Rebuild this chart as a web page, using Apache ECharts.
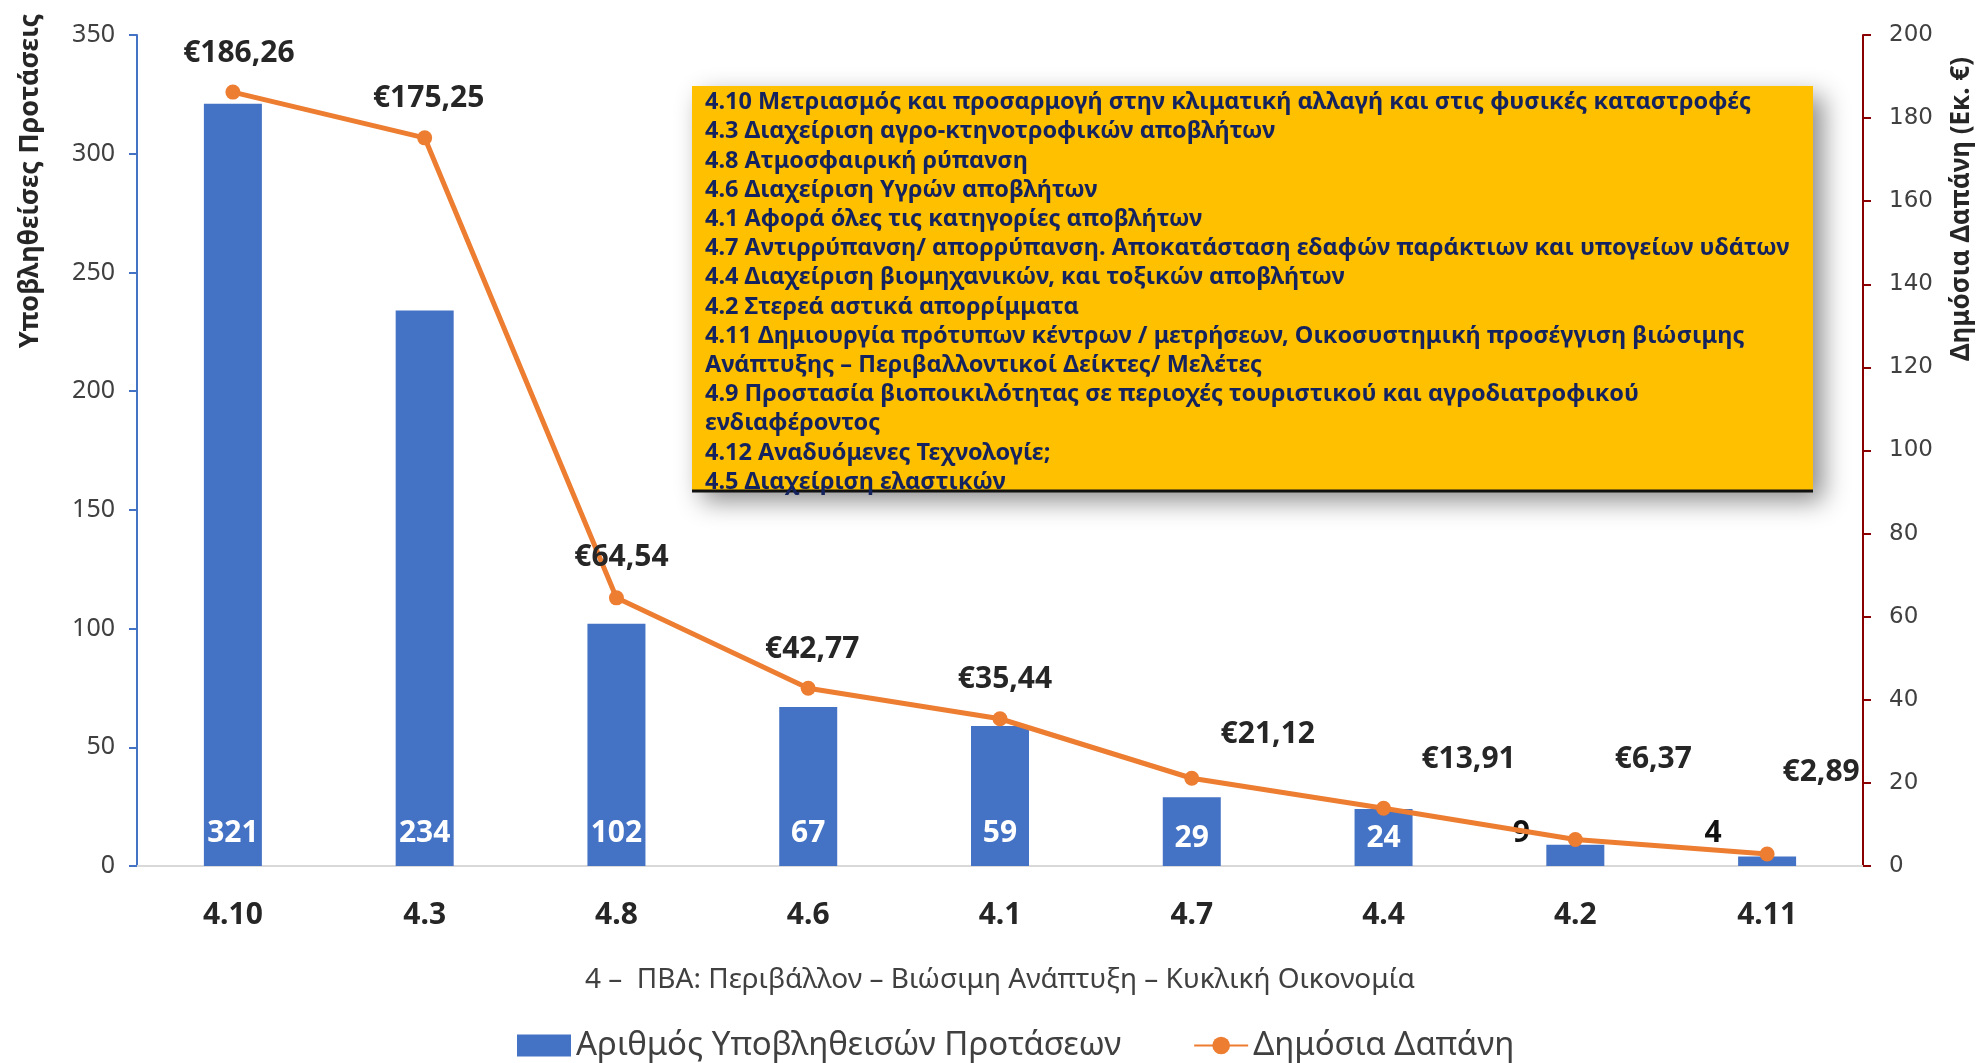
<!DOCTYPE html>
<html>
<head>
<meta charset="utf-8">
<style>
  html, body { margin: 0; padding: 0; background: #fff; }
  #chart-container { width: 1985px; height: 1063px; }
</style>
<script src="https://cdn.jsdelivr.net/npm/echarts@6/dist/echarts.min.js"></script>
</head>
<body>
<div id="chart-container"></div>
<script>
const categories = ['4.10', '4.3', '4.8', '4.6', '4.1', '4.7', '4.4', '4.2', '4.11'];
const proposals = [321, 234, 102, 67, 59, 29, 24, 9, 4];
const spending = [186.26, 175.25, 64.54, 42.77, 35.44, 21.12, 13.91, 6.37, 2.89];

const leftTicks = { min: 0, max: 350, interval: 50 };
const rightTicks = { min: 0, max: 200, interval: 20 };

const boxLines = [
  '4.10 Μετριασμός και προσαρμογή στην κλιματική αλλαγή και στις φυσικές καταστροφές',
  '4.3 Διαχείριση αγρο-κτηνοτροφικών αποβλήτων',
  '4.8 Ατμοσφαιρική ρύπανση',
  '4.6 Διαχείριση Υγρών αποβλήτων',
  '4.1 Αφορά όλες τις κατηγορίες αποβλήτων',
  '4.7 Αντιρρύπανση/ απορρύπανση. Αποκατάσταση εδαφών παράκτιων και υπογείων υδάτων',
  '4.4 Διαχείριση βιομηχανικών, και τοξικών αποβλήτων',
  '4.2 Στερεά αστικά απορρίμματα',
  '4.11 Δημιουργία πρότυπων κέντρων / μετρήσεων, Οικοσυστημική προσέγγιση βιώσιμης',
  'Ανάπτυξης – Περιβαλλοντικοί Δείκτες/ Μελέτες',
  '4.9 Προστασία βιοποικιλότητας σε περιοχές τουριστικού και αγροδιατροφικού',
  'ενδιαφέροντος',
  '4.12 Αναδυόμενες Τεχνολογίε;',
  '4.5 Διαχείριση ελαστικών'
];

// label nudges (px) so the euro labels sit where the original put them
const spendLabelOffsets = [[6, -39], [4, -39], [5, -40], [4, -39], [5, -39], [76, -44], [85, -49], [78, -80], [54, -82]];

const FONT = 'Noto Sans';
const blue = '#4472C4';
const orange = '#ED7D31';
const darkRed = '#8B0000';

const chart = echarts.init(document.getElementById('chart-container'));

const barData = proposals.map((v, i) => {
  const item = { value: v };
  if (v < 20) {
    item.label = { color: '#111', offset: [-54, 0] };
  } else if (v < 40) {
    item.label = { distance: 13 };
  }
  return item;
});

const lineData = spending.map((v, i) => ({
  value: v,
  label: { offset: spendLabelOffsets[i] }
}));

const option = {
  animation: false,
  textStyle: { fontFamily: FONT },
  grid: { left: 137, right: 122, top: 35, bottom: 197, containLabel: false },
  legend: {
    top: 1024,
    left: 512,
    itemWidth: 54,
    itemHeight: 22,
    itemGap: 72,
    textStyle: { fontSize: 33, color: '#404040', fontFamily: FONT },
    data: [
      { name: 'Αριθμός Υποβληθεισών Προτάσεων', icon: 'rect' },
      { name: 'Δημόσια Δαπάνη' }
    ]
  },
  xAxis: {
    type: 'category',
    data: categories,
    axisLine: { lineStyle: { color: '#D9D9D9', width: 2 } },
    axisTick: { show: false },
    axisLabel: { fontSize: 30, fontWeight: 'bold', color: '#262626', margin: 34 },
    name: '4 –  ΠΒΑ: Περιβάλλον – Βιώσιμη Ανάπτυξη – Κυκλική Οικονομία',
    nameLocation: 'middle',
    nameGap: 100,
    nameTextStyle: { fontSize: 28, color: '#404040' }
  },
  yAxis: [
    {
      type: 'value',
      min: leftTicks.min,
      max: leftTicks.max,
      interval: leftTicks.interval,
      splitLine: { show: false },
      axisLine: { show: true, lineStyle: { color: blue, width: 2 } },
      axisTick: { show: true, length: 8, lineStyle: { color: blue, width: 2 } },
      axisLabel: { fontSize: 25, color: '#404040', margin: 22 }
    },
    {
      type: 'value',
      min: rightTicks.min,
      max: rightTicks.max,
      interval: rightTicks.interval,
      splitLine: { show: false },
      axisLine: { show: true, lineStyle: { color: darkRed, width: 2 } },
      axisTick: { show: true, length: 8, lineStyle: { color: darkRed, width: 2 } },
      axisLabel: { fontSize: 23, color: '#404040', margin: 26, fontFamily: 'DejaVu Sans' }
    }
  ],
  series: [
    {
      name: 'Αριθμός Υποβληθεισών Προτάσεων',
      type: 'bar',
      data: barData,
      barWidth: 58,
      itemStyle: { color: blue },
      label: {
        show: true,
        position: 'insideBottom',
        distance: 18,
        fontSize: 30,
        fontWeight: 'bold',
        color: '#fff'
      }
    },
    {
      name: 'Δημόσια Δαπάνη',
      type: 'line',
      yAxisIndex: 1,
      data: lineData,
      symbol: 'circle',
      symbolSize: 15,
      lineStyle: { color: orange, width: 5 },
      itemStyle: { color: orange },
      z: 5,
      label: {
        show: true,
        position: 'inside',
        fontSize: 30,
        fontWeight: 'bold',
        color: '#262626',
        formatter: (p) => '€' + p.value.toFixed(2).replace('.', ',')
      }
    }
  ],
  graphic: [
    {
      type: 'rect',
      shape: { x: 692, y: 86, width: 1121, height: 405 },
      style: {
        fill: '#FFC000',
        shadowBlur: 24,
        shadowColor: 'rgba(0,0,0,0.45)',
        shadowOffsetX: 10,
        shadowOffsetY: 10
      },
      z: 10
    },
    {
      type: 'line',
      shape: { x1: 692, y1: 491, x2: 1813, y2: 491 },
      style: { stroke: '#111', lineWidth: 3 },
      z: 11
    },
    {
      type: 'text',
      x: 705,
      y: 88,
      z: 12,
      style: {
        text: boxLines.join('\n'),
        font: 'bold 23.5px "' + FONT + '"',
        lineHeight: 29.2,
        fill: '#14235E'
      }
    },
    {
      type: 'text',
      x: 30,
      y: 181,
      rotation: Math.PI / 2,
      style: {
        text: 'Υποβληθείσες Προτάσεις',
        font: 'bold 27px "' + FONT + '"',
        fill: '#262626',
        align: 'center',
        verticalAlign: 'middle'
      }
    },
    {
      type: 'text',
      x: 1962,
      y: 209,
      rotation: Math.PI / 2,
      style: {
        text: 'Δημόσια Δαπάνη (Εκ. €)',
        font: 'bold 26px "' + FONT + '"',
        fill: '#262626',
        align: 'center',
        verticalAlign: 'middle'
      }
    }
  ]
};

chart.setOption(option);
</script>
</body>
</html>
